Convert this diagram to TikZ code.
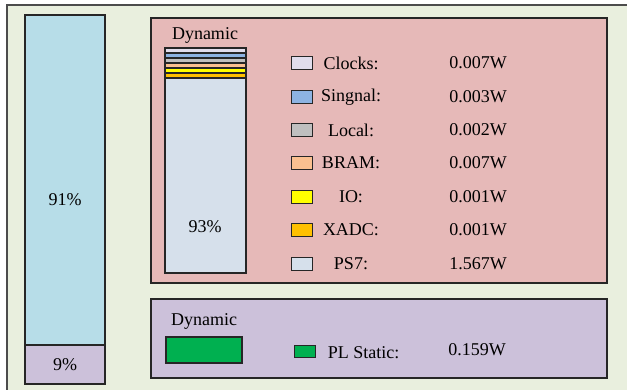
\documentclass[tikz,border=0pt]{standalone}
\usepackage{fontspec}
\setmainfont{Liberation Serif}
\definecolor{bgpanel}{HTML}{E9EFDE}
\definecolor{totalblue}{HTML}{B7DDE8}
\definecolor{staticpurple}{HTML}{CCC1DA}
\definecolor{dynpink}{HTML}{E6B9B8}
\definecolor{ps7blue}{HTML}{D6E0EB}
\definecolor{clocklav}{HTML}{E1DDEC}
\definecolor{signalblue}{HTML}{8DB3E2}
\definecolor{localgray}{HTML}{BFBFBF}
\definecolor{brampeach}{HTML}{FAC090}
\definecolor{ioyellow}{HTML}{FFFF00}
\definecolor{xadcorange}{HTML}{FFC000}
\definecolor{plgreen}{HTML}{00B050}
\tikzset{
  panel/.style={draw=black!85, line width=1.2pt},
  barpart/.style={draw=black!85, line width=1.2pt},
  swatch/.style={draw=black!85, line width=1pt, minimum width=21pt, minimum height=13pt, inner sep=0pt},
  lbl/.style={font=\fontsize{18}{20}\selectfont, inner sep=0pt},
}
\begin{document}
\begin{tikzpicture}[x=1pt,y=-1pt]
\useasboundingbox (0,0) rectangle (627,390);
\fill[white] (0,0) rectangle (627,390);
% outer panel, running off the right and bottom
\draw[fill=bgpanel, draw=black!70, line width=1.2pt] (7,5) rectangle (660,420);

% total power bar
\draw[barpart, fill=totalblue] (25,15) rectangle (105,345);
\draw[barpart, fill=staticpurple] (25,345) rectangle (105,384);
\node[lbl] (pct91) at (65,200) {91\%};
\node[lbl] (pct9) at (65,365) {9\%};

% dynamic panel
\draw[panel, fill=dynpink] (151,18) rectangle (607,283);
\node[lbl] (dyntitle) at (205,35) {Dynamic};
\draw[barpart, fill=ps7blue] (165,48) rectangle (246,273);
\foreach \c [count=\i from 0] in {clocklav,signalblue,localgray,brampeach,ioyellow,xadcorange}{
  \draw[barpart, fill=\c] (165,48+5*\i) rectangle (246,53+5*\i);
}
\node[lbl] (pct93) at (205,227) {93\%};

% legend rows
\foreach \c/\name/\val/\y [count=\i] in {
  clocklav/Clocks:/0.007W/63,
  signalblue/Singnal:/0.003W/97,
  localgray/Local:/0.002W/130,
  brampeach/BRAM:/0.007W/163,
  ioyellow/IO:/0.001W/197,
  xadcorange/XADC:/0.001W/230,
  ps7blue/PS7:/1.567W/264}{
  \node[swatch, fill=\c] (sw\i) at (301.5,\y) {};
  \node[lbl] (name\i) at (351,\y) {\name};
  \node[lbl] (val\i) at (478,\y) {\val};
}

% static panel
\draw[panel, fill=staticpurple] (151,299) rectangle (607,378);
\node[lbl] (stattitle) at (204,321) {Dynamic};
\draw[barpart, fill=plgreen] (166,337) rectangle (242,363);
\node[swatch, fill=plgreen, minimum height=12pt] (swpl) at (305,351) {};
\node[lbl] (namepl) at (363.5,353) {PL Static:};
\node[lbl] (valpl) at (477,350) {0.159W};
\end{tikzpicture}
\end{document}
